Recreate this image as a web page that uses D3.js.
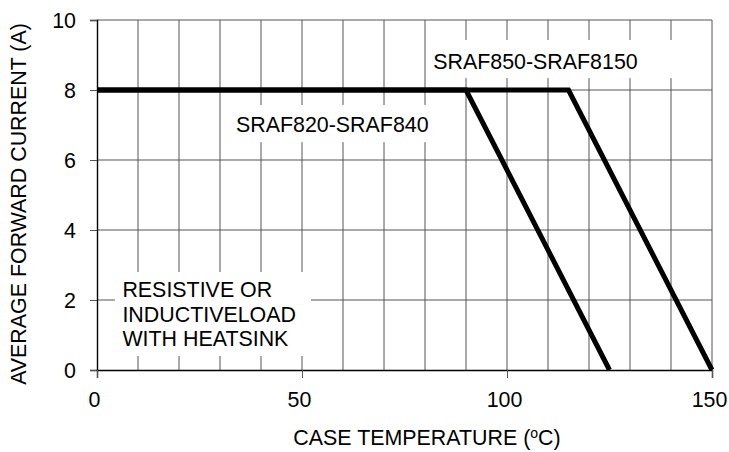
<!DOCTYPE html>
<html>
<head>
<meta charset="utf-8">
<script src="https://cdn.jsdelivr.net/npm/d3@7"></script>
<style>
  body { margin: 0; background: #fff; }
  text { font-family: "Liberation Sans", Arial, sans-serif; }
</style>
</head>
<body>
<div id="chart"></div>
<script>
// case temperature (C) vs average forward current (A)
var lowTemps = [0, 90, 125];
var lowCurrents = [8, 8, 0];
var highTemps = [0, 115, 150];
var highCurrents = [8, 8, 0];

var xTicks = [0, 50, 100, 150];
var xGrid = [10, 20, 30, 40, 50, 60, 70, 80, 90, 100, 110, 120, 130, 140];
var yTicks = [0, 2, 4, 6, 8, 10];

var lowName = "SRAF820-SRAF840";
var highName = "SRAF850-SRAF8150";
var noteLines = ["RESISTIVE OR", "INDUCTIVELOAD", "WITH HEATSINK"];

var width = 729,
  height = 452;
var margin = { top: 20, right: 17, bottom: 82, left: 97 };
var fontSize = "21.4px";

var svg = d3.select("#chart").append("svg")
  .attr("width", width)
  .attr("height", height);

var x = d3.scaleLinear()
  .domain([0, 150])
  .range([margin.left, width - margin.right]);

var y = d3.scaleLinear()
  .domain([0, 10])
  .range([height - margin.bottom, margin.top]);

var gridColor = "#555";

// vertical grid
svg.selectAll("line.vgrid")
  .data(xGrid)
  .enter()
  .append("line")
  .attr("class", "vgrid")
  .attr("x1", function(d) { return x(d); })
  .attr("x2", function(d) { return x(d); })
  .attr("y1", y(0))
  .attr("y2", y(10))
  .style("stroke", gridColor)
  .style("stroke-width", 1);

// horizontal grid
svg.selectAll("line.hgrid")
  .data(yTicks.filter(function(d) { return d > 0; }))
  .enter()
  .append("line")
  .attr("class", "hgrid")
  .attr("x1", x(0))
  .attr("x2", x(150))
  .attr("y1", function(d) { return y(d); })
  .attr("y2", function(d) { return y(d); })
  .style("stroke", gridColor)
  .style("stroke-width", 1);

// right border
svg.append("line")
  .attr("x1", x(150)).attr("x2", x(150))
  .attr("y1", y(0)).attr("y2", y(10))
  .style("stroke", gridColor);

// axes (ticks only outward)
var yAxis = d3.axisLeft(y)
  .tickValues(yTicks)
  .tickSize(7)
  .tickPadding(14);

var xAxis = d3.axisBottom(x)
  .tickValues(xTicks)
  .tickSize(8)
  .tickPadding(14);

var gy = svg.append("g")
  .attr("transform", "translate(" + x(0) + ",0)")
  .call(yAxis);

var gx = svg.append("g")
  .attr("transform", "translate(0," + y(0) + ")")
  .call(xAxis);

[gx, gy].forEach(function(g) {
  g.select(".domain").style("stroke", "#000").style("stroke-width", 1.4);
  g.selectAll(".tick line").style("stroke", gridColor);
  g.selectAll(".tick text")
    .style("font-size", fontSize)
    .style("fill", "#000");
});
gx.selectAll(".tick text").attr("dx", -3);
gy.selectAll(".tick text").attr("dy", "0.36em");

// label boxes: white background that cuts the grid
var boxes = [
  { x0: 81.5, x1: 144.5, y0: 9.43, y1: 8.34 },
  { x0: 32, x1: 81.8, y0: 7.57, y1: 6.51 },
  { x0: 4.4, x1: 52.2, y0: 2.8, y1: 0.4 }
];

svg.selectAll("rect.box")
  .data(boxes)
  .enter()
  .append("rect")
  .attr("class", "box")
  .attr("x", function(d) { return x(d.x0); })
  .attr("y", function(d) { return y(d.y0); })
  .attr("width", function(d) { return x(d.x1) - x(d.x0); })
  .attr("height", function(d) { return y(d.y1) - y(d.y0); })
  .style("fill", "#fff");

var line = d3.line()
  .x(function(d) { return x(d[0]); })
  .y(function(d) { return y(d[1]); });

var curves = [
  d3.zip(lowTemps, lowCurrents),
  d3.zip(highTemps, highCurrents)
];

svg.selectAll("path.curve")
  .data(curves)
  .enter()
  .append("path")
  .attr("class", "curve")
  .attr("d", line)
  .style("fill", "none")
  .style("stroke", "#000")
  .style("stroke-width", 5)
  .style("stroke-linejoin", "miter")
  .style("stroke-linecap", "butt");

// curve names
svg.append("text")
  .attr("x", x(82))
  .attr("y", y(8.59))
  .style("font-size", fontSize)
  .text(highName);

svg.append("text")
  .attr("x", x(33.9))
  .attr("y", y(6.81))
  .style("font-size", fontSize)
  .text(lowName);

svg.selectAll("text.note")
  .data(noteLines)
  .enter()
  .append("text")
  .attr("class", "note")
  .attr("x", x(6.2))
  .attr("y", function(d, i) { return y(2.077) + i * 24.4; })
  .style("font-size", fontSize)
  .text(function(d) { return d; });

// axis titles
svg.append("text")
  .attr("transform", "translate(26," + 204 + ") rotate(-90)")
  .attr("text-anchor", "middle")
  .style("font-size", fontSize)
  .text("AVERAGE FORWARD CURRENT (A)");

var xt = svg.append("text")
  .attr("x", 427)
  .attr("y", 445)
  .attr("text-anchor", "middle")
  .style("font-size", fontSize);
xt.append("tspan").text("CASE TEMPERATURE (");
xt.append("tspan").attr("dy", -7).style("font-size", "14px").text("o");
xt.append("tspan").attr("dy", 7).text("C)");
</script>
</body>
</html>
